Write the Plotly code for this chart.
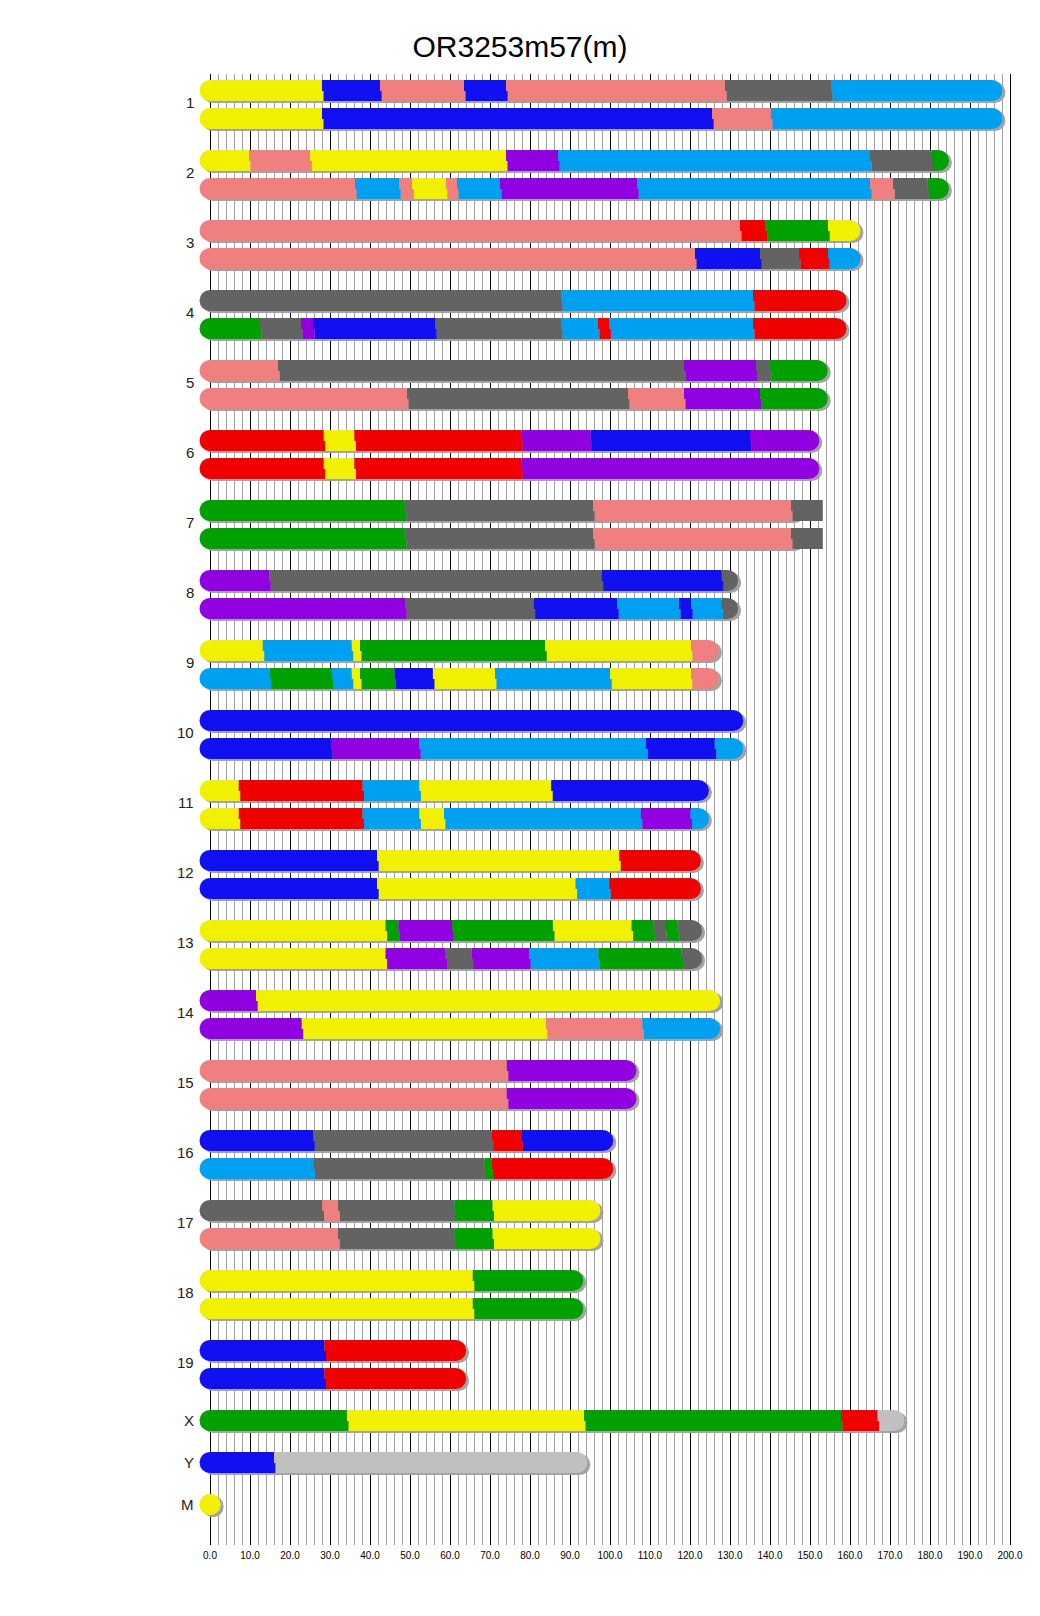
import plotly.graph_objects as go

TITLE = "OR3253m57(m)"

# Chromosomes, lengths (Mb)
CHR_NAMES = ["1", "2", "3", "4", "5", "6", "7", "8", "9", "10", "11", "12", "13",
             "14", "15", "16", "17", "18", "19", "X", "Y", "M"]
CHR_LENGTHS = [195.5, 182.1, 160.0, 156.5, 151.8, 149.7, 145.4, 129.4, 124.6, 130.7,
               122.1, 120.1, 120.4, 124.9, 104.0, 98.2, 95.0, 90.7, 61.4, 171.0, 91.7, 0.016]

# Founder / source codes -> colours
SOURCE_CODES = ["A", "B", "C", "D", "E", "F", "G", "H", "N"]
SOURCE_COLORS = ["#f0f000", "#636363", "#f08080", "#1010f0", "#00a0f0",
                 "#00a000", "#f00000", "#9000e0", "#c0c0c0"]

# Haplotype segments: (segment end in Mb, source code)
SEG_1A = [(28.0, "A"), (42.5, "D"), (63.5, "C"), (74.0, "D"), (128.75, "C"), (155.25, "B"), (195.5, "E")]
SEG_1B = [(28.0, "A"), (125.5, "D"), (140.25, "C"), (195.5, "E")]
SEG_2A = [(9.75, "A"), (25.0, "C"), (74.0, "A"), (87.0, "H"), (165.0, "E"), (180.4, "B"), (182.1, "F")]
SEG_2B = [(36.25, "C"), (47.25, "E"), (50.5, "C"), (59.0, "A"), (61.75, "C"), (72.5, "E"),
          (106.75, "H"), (165.0, "E"), (170.75, "C"), (179.4, "B"), (182.1, "F")]
SEG_3A = [(132.5, "C"), (138.9, "G"), (154.5, "F"), (160.0, "A")]
SEG_3B = [(121.25, "C"), (137.5, "D"), (147.25, "B"), (154.5, "G"), (160.0, "E")]
SEG_4A = [(87.75, "B"), (135.75, "E"), (156.5, "G")]
SEG_4B = [(12.5, "F"), (22.75, "B"), (25.75, "H"), (56.25, "D"), (87.75, "B"), (97.0, "E"),
          (99.8, "G"), (135.75, "E"), (156.5, "G")]
SEG_5A = [(17.0, "C"), (118.5, "B"), (136.5, "H"), (140.0, "B"), (151.8, "F")]
SEG_5B = [(49.2, "C"), (104.5, "B"), (118.5, "C"), (137.5, "H"), (151.8, "F")]
SEG_6A = [(28.4, "G"), (36.1, "A"), (77.8, "G"), (95.1, "H"), (135.0, "D"), (149.7, "H")]
SEG_6B = [(28.4, "G"), (36.1, "A"), (77.8, "G"), (149.7, "H")]
SEG_7A = [(48.7, "F"), (95.8, "B"), (145.25, "C"), (153.2, "B")]
SEG_7B = [(48.7, "F"), (95.8, "B"), (145.25, "C"), (153.2, "B")]
SEG_8A = [(14.8, "H"), (97.9, "B"), (127.9, "D"), (129.4, "B")]
SEG_8B = [(48.75, "H"), (80.9, "B"), (101.8, "D"), (117.2, "E"), (120.3, "D"), (127.9, "E"), (129.4, "B")]
SEG_9A = [(13.2, "A"), (35.4, "E"), (37.5, "A"), (83.75, "F"), (120.25, "A"), (124.6, "C")]
SEG_9B = [(14.9, "E"), (30.5, "F"), (35.4, "E"), (37.5, "A"), (46.1, "F"), (55.7, "D"),
          (71.25, "A"), (100.0, "E"), (120.25, "A"), (124.6, "C")]
SEG_10A = [(130.7, "D")]
SEG_10B = [(30.25, "D"), (52.25, "H"), (109.0, "E"), (126.2, "D"), (130.7, "E")]
SEG_11A = [(7.2, "A"), (38.1, "G"), (52.3, "E"), (85.3, "A"), (122.1, "D")]
SEG_11B = [(7.2, "A"), (38.1, "G"), (52.3, "E"), (58.5, "A"), (107.7, "E"), (120.1, "H"), (122.1, "E")]
SEG_12A = [(41.75, "D"), (102.3, "A"), (120.1, "G")]
SEG_12B = [(41.75, "D"), (91.4, "A"), (99.8, "E"), (120.1, "G")]
SEG_13A = [(43.9, "A"), (47.1, "F"), (60.5, "H"), (85.7, "F"), (105.4, "A"), (110.8, "F"),
           (113.75, "B"), (116.9, "F"), (120.4, "B")]
SEG_13B = [(43.9, "A"), (58.9, "H"), (65.4, "B"), (79.75, "H"), (97.1, "E"), (117.9, "F"), (120.4, "B")]
SEG_14A = [(11.5, "H"), (124.9, "A")]
SEG_14B = [(22.9, "H"), (84.0, "A"), (108.1, "C"), (124.9, "E")]
SEG_15A = [(74.2, "C"), (104.0, "H")]
SEG_15B = [(74.2, "C"), (104.0, "H")]
SEG_16A = [(25.8, "D"), (70.4, "B"), (77.8, "G"), (98.2, "D")]
SEG_16B = [(25.8, "E"), (68.6, "B"), (70.4, "F"), (98.2, "G")]
SEG_17A = [(28.1, "B"), (32.0, "C"), (61.1, "B"), (70.6, "F"), (95.0, "A")]
SEG_17B = [(32.0, "C"), (61.1, "B"), (70.6, "F"), (95.0, "A")]
SEG_18A = [(65.7, "A"), (90.7, "F")]
SEG_18B = [(65.7, "A"), (90.7, "F")]
SEG_19A = [(28.6, "D"), (61.4, "G")]
SEG_19B = [(28.6, "D"), (61.4, "G")]
SEG_XA = [(34.2, "F"), (93.5, "A"), (157.75, "F"), (166.9, "G"), (171.0, "N")]
SEG_YA = [(16.0, "D"), (91.7, "N")]
SEG_MA = [(0.016, "A")]

HAPLOTYPES = [
    [SEG_1A, SEG_1B], [SEG_2A, SEG_2B], [SEG_3A, SEG_3B], [SEG_4A, SEG_4B], [SEG_5A, SEG_5B],
    [SEG_6A, SEG_6B], [SEG_7A, SEG_7B], [SEG_8A, SEG_8B], [SEG_9A, SEG_9B], [SEG_10A, SEG_10B],
    [SEG_11A, SEG_11B], [SEG_12A, SEG_12B], [SEG_13A, SEG_13B], [SEG_14A, SEG_14B],
    [SEG_15A, SEG_15B], [SEG_16A, SEG_16B], [SEG_17A, SEG_17B], [SEG_18A, SEG_18B],
    [SEG_19A, SEG_19B], [SEG_XA], [SEG_YA], [SEG_MA],
]

TICK_VALUES = list(range(0, 201, 10))
TICK_LABELS = [f"{v:.1f}" for v in TICK_VALUES]
MINOR_VALUES = [v for v in range(2, 200, 2) if v % 10 != 0]

# ---------------- geometry / style ----------------
PAGE_OFFSET = 8                      # browser body margin
W, H = 1040 - PAGE_OFFSET, 1616 - PAGE_OFFSET
PX_PER_MB = 4.0
ZERO_PX = 210 - PAGE_OFFSET          # pixel of 0 Mb inside the figure
X_RANGE = [-ZERO_PX / PX_PER_MB, (W - ZERO_PX) / PX_PER_MB]
GRID_TOP, GRID_BOTTOM = 74, 1545     # page pixels (y data == page pixel)
FIRST_Y = 90.5
HAP_GAP = 28
CHR_GAP = 42
BAR_H = 21
LABEL_LIFT = 2
STEP = 0.4            # Mb offset of lower half at boundaries
SHADOW_DX = 3 / PX_PER_MB
SHADOW_DY = 2
SHADOW_COLOR = "#a3a3a3"
FONT = "Liberation Sans, Arial, sans-serif"

color_of = dict(zip(SOURCE_CODES, SOURCE_COLORS))

# track centres
tracks = []   # (chrom index, y centre, segments)
label_pos = []
y = FIRST_Y
first = True
for ci, haps in enumerate(HAPLOTYPES):
    ys = []
    for hi, segs in enumerate(haps):
        if not first:
            y += HAP_GAP if hi > 0 else CHR_GAP
        first = False
        tracks.append((ci, y, segs))
        ys.append(y)
    lift = LABEL_LIFT if len(ys) > 1 else 0
    label_pos.append(sum(ys) / len(ys) - lift)

fig = go.Figure()

# shadows
sx, sy = [], []
scx, scy = [], []
for ci, yc, segs in tracks:
    L = CHR_LENGTHS[ci]
    t, b = yc - BAR_H / 2 + SHADOW_DY, yc + BAR_H / 2 + SHADOW_DY
    x0, x1 = SHADOW_DX, L + SHADOW_DX
    sx += [x0, x1, x1, x0, x0, None]
    sy += [t, t, b, b, t, None]
    scx += [x0, x1]
    scy += [yc + SHADOW_DY, yc + SHADOW_DY]
fig.add_trace(go.Scatter(x=sx, y=sy, mode="lines", fill="toself", fillcolor=SHADOW_COLOR,
                         line=dict(width=0, color=SHADOW_COLOR), hoverinfo="skip"))
fig.add_trace(go.Scatter(x=scx, y=scy, mode="markers",
                         marker=dict(size=BAR_H, color=SHADOW_COLOR, line=dict(width=0)),
                         hoverinfo="skip"))

# rounded caps
cx, cy, cc = [], [], []
for ci, yc, segs in tracks:
    L = CHR_LENGTHS[ci]
    cx.append(0)
    cy.append(yc)
    cc.append(color_of[segs[0][1]])
    start = 0.0
    end_code = segs[-1][1]
    for e, code in segs:
        if start <= L <= e:
            end_code = code
            break
        start = e
    cx.append(L)
    cy.append(yc)
    cc.append(color_of[end_code])
fig.add_trace(go.Scatter(x=cx, y=cy, mode="markers",
                         marker=dict(size=BAR_H, color=cc, line=dict(width=0)),
                         hoverinfo="skip"))

# segments (one polygon trace per source)
polys = {c: ([], []) for c in SOURCE_CODES}
for ci, yc, segs in tracks:
    top, mid, bot = yc - BAR_H / 2, yc + 0.5, yc + BAR_H / 2
    start = 0.0
    n = len(segs)
    for k, (e, code) in enumerate(segs):
        dl = STEP if k > 0 else 0.0
        dr = STEP if k < n - 1 else 0.0
        px, py = polys[code]
        px += [start, e, e, e + dr, e + dr, start + dl, start + dl, start, start, None]
        py += [top, top, mid, mid, bot, bot, mid, mid, top, None]
        start = e
for code in SOURCE_CODES:
    px, py = polys[code]
    if not px:
        continue
    col = color_of[code]
    fig.add_trace(go.Scatter(x=px, y=py, mode="lines", fill="toself", fillcolor=col,
                             line=dict(width=0, color=col), hoverinfo="skip"))

# chromosome labels
for name, yl in zip(CHR_NAMES, label_pos):
    fig.add_annotation(x=-3.4, y=yl, xref="x", yref="y", text=name, showarrow=False,
                       xanchor="right", yanchor="middle",
                       font=dict(size=15, family=FONT, color="#222222"))

fig.update_layout(
    width=W, height=H,
    margin=dict(l=0, r=0, t=GRID_TOP - PAGE_OFFSET, b=H - (GRID_BOTTOM - PAGE_OFFSET), pad=0),
    paper_bgcolor="white", plot_bgcolor="white",
    showlegend=False,
    title=dict(text=TITLE, x=(520 - PAGE_OFFSET) / W, xanchor="center",
               y=1 - (46 - PAGE_OFFSET) / H, yanchor="middle",
               yref="container", font=dict(size=30, family=FONT, color="black")),
    xaxis=dict(range=X_RANGE, tickmode="array", tickvals=TICK_VALUES, ticktext=TICK_LABELS,
               showgrid=True, gridcolor="black", gridwidth=1, zeroline=False, showline=False,
               ticks="outside", ticklen=1, tickcolor="rgba(0,0,0,0)",
               tickfont=dict(size=10, family=FONT, color="black"), fixedrange=True,
               minor=dict(tickmode="array", tickvals=MINOR_VALUES, showgrid=True,
                          gridcolor="#a0a0a0", gridwidth=1, ticks="")),
    yaxis=dict(range=[GRID_BOTTOM, GRID_TOP], showgrid=False, zeroline=False,
               showticklabels=False, showline=False, fixedrange=True),
)

fig.write_html("out.html")
